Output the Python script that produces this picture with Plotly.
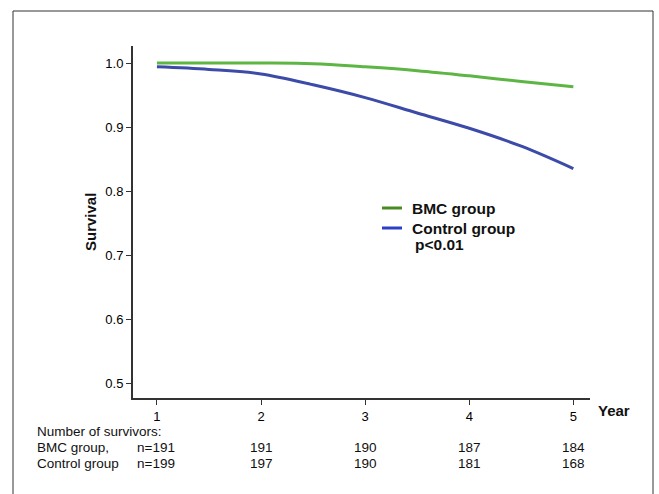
import plotly.graph_objects as go

# Data
years = [1, 1.5, 2, 2.5, 3, 3.5, 4, 4.5, 5]
bmc_survival = [1.000, 1.000, 1.000, 0.999, 0.994, 0.988, 0.980, 0.971, 0.963]
control_survival = [0.994, 0.990, 0.983, 0.966, 0.946, 0.922, 0.898, 0.870, 0.835]

year_ticks = [1, 2, 3, 4, 5]
bmc_at_risk = [191, 190, 187, 184]
control_at_risk = [197, 190, 181, 168]
at_risk_years = [2, 3, 4, 5]

y_ticks = [0.5, 0.6, 0.7, 0.8, 0.9, 1.0]

GREEN = "#5db543"
BLUE = "#3d4ba8"
GREEN_LEG = "#4a8a22"
BLUE_LEG = "#2c3fc8"
FONT = "Liberation Sans, Arial, sans-serif"
TXT = "#111"

fig = go.Figure()
fig.add_trace(go.Scatter(x=years, y=bmc_survival, mode="lines",
                         line=dict(color=GREEN, width=3, shape="spline"),
                         name="BMC group", showlegend=False))
fig.add_trace(go.Scatter(x=years, y=control_survival, mode="lines",
                         line=dict(color=BLUE, width=3, shape="spline"),
                         name="Control group", showlegend=False))

W, H = 659, 494
L, R, T, B = 133, 69, 46, 96

fig.update_layout(
    width=W, height=H,
    margin=dict(l=L, r=R, t=T, b=B),
    paper_bgcolor="white", plot_bgcolor="white",
    font=dict(family=FONT, size=12, color=TXT),
    xaxis=dict(range=[0.77, 5.16], tickvals=year_ticks, ticks="outside",
               ticklen=5, tickwidth=1, tickcolor="#333",
               showline=True, linecolor="#333", linewidth=2,
               showgrid=False, zeroline=False,
               tickfont=dict(family=FONT, size=13, color="#000")),
    yaxis=dict(range=[0.4766, 1.0266], tickvals=y_ticks,
               ticktext=[f"{v:.1f}" for v in y_ticks], ticks="outside",
               ticklen=5, tickwidth=1, tickcolor="#333",
               showline=True, linecolor="#333", linewidth=2,
               showgrid=False, zeroline=False,
               tickfont=dict(family=FONT, size=13, color="#000")),
)

def px_to_paper_x(px):
    return (px - L) / (W - L - R)

def px_to_paper_y(py):
    return (H - B - py) / (H - T - B)

annotations = []
shapes = []

# outer frame (top, left, right)
shapes.append(dict(type="line", xref="paper", yref="paper",
                   x0=px_to_paper_x(13), x1=px_to_paper_x(653),
                   y0=px_to_paper_y(11), y1=px_to_paper_y(11),
                   line=dict(color="#333", width=1)))
shapes.append(dict(type="line", xref="paper", yref="paper",
                   x0=px_to_paper_x(13), x1=px_to_paper_x(13),
                   y0=px_to_paper_y(11), y1=px_to_paper_y(500),
                   line=dict(color="#333", width=1)))
shapes.append(dict(type="line", xref="paper", yref="paper",
                   x0=px_to_paper_x(653), x1=px_to_paper_x(653),
                   y0=px_to_paper_y(11), y1=px_to_paper_y(500),
                   line=dict(color="#333", width=1)))

# axis titles
annotations.append(dict(text="<b>Survival</b>", xref="paper", yref="paper",
                        x=px_to_paper_x(90), y=px_to_paper_y(222),
                        textangle=-90, showarrow=False,
                        font=dict(family=FONT, size=15, color=TXT),
                        xanchor="center", yanchor="middle"))
annotations.append(dict(text="<b>Year</b>", xref="paper", yref="paper",
                        x=px_to_paper_x(596), y=px_to_paper_y(410),
                        showarrow=False, xanchor="left", yanchor="middle",
                        font=dict(family=FONT, size=15, color=TXT)))

# legend
leg_items = [("BMC group", GREEN_LEG, 208), ("Control group", BLUE_LEG, 228)]
for label, col, py in leg_items:
    shapes.append(dict(type="line", xref="paper", yref="paper",
                       x0=px_to_paper_x(382), x1=px_to_paper_x(402),
                       y0=px_to_paper_y(py), y1=px_to_paper_y(py),
                       line=dict(color=col, width=3)))
    annotations.append(dict(text=f"<b>{label}</b>", xref="paper", yref="paper",
                            x=px_to_paper_x(410), y=px_to_paper_y(py),
                            showarrow=False, xanchor="left", yanchor="middle",
                            font=dict(family=FONT, size=15.5, color=TXT)))
annotations.append(dict(text="<b>p<0.01</b>", xref="paper", yref="paper",
                        x=px_to_paper_x(413), y=px_to_paper_y(244),
                        showarrow=False, xanchor="left", yanchor="middle",
                        font=dict(family=FONT, size=15.5, color=TXT)))

# number-at-risk table
TS = 13.5
row_y = {"head": 431, "bmc": 447, "ctl": 463}
annotations.append(dict(text="Number of survivors:", xref="paper", yref="paper",
                        x=px_to_paper_x(35), y=px_to_paper_y(row_y["head"]),
                        showarrow=False, xanchor="left", yanchor="middle",
                        font=dict(family=FONT, size=TS, color=TXT)))
for lab, n, key in [("BMC group,", "n=191", "bmc"), ("Control group", "n=199", "ctl")]:
    annotations.append(dict(text=lab, xref="paper", yref="paper",
                            x=px_to_paper_x(35), y=px_to_paper_y(row_y[key]),
                            showarrow=False, xanchor="left", yanchor="middle",
                            font=dict(family=FONT, size=TS, color=TXT)))
    annotations.append(dict(text=n, xref="paper", yref="paper",
                            x=px_to_paper_x(177), y=px_to_paper_y(row_y[key]),
                            showarrow=False, xanchor="right", yanchor="middle",
                            font=dict(family=FONT, size=TS, color=TXT)))
for yr, a, c in zip(at_risk_years, bmc_at_risk, control_at_risk):
    annotations.append(dict(text=str(a), xref="x", yref="paper", x=yr,
                            y=px_to_paper_y(row_y["bmc"]), showarrow=False,
                            xanchor="center", yanchor="middle",
                            font=dict(family=FONT, size=TS, color=TXT)))
    annotations.append(dict(text=str(c), xref="x", yref="paper", x=yr,
                            y=px_to_paper_y(row_y["ctl"]), showarrow=False,
                            xanchor="center", yanchor="middle",
                            font=dict(family=FONT, size=TS, color=TXT)))

fig.update_layout(annotations=annotations, shapes=shapes)
fig.write_html("out.html", config={"displayModeBar": False},
               post_script="document.body.style.margin='0';document.body.style.overflow='hidden';")
